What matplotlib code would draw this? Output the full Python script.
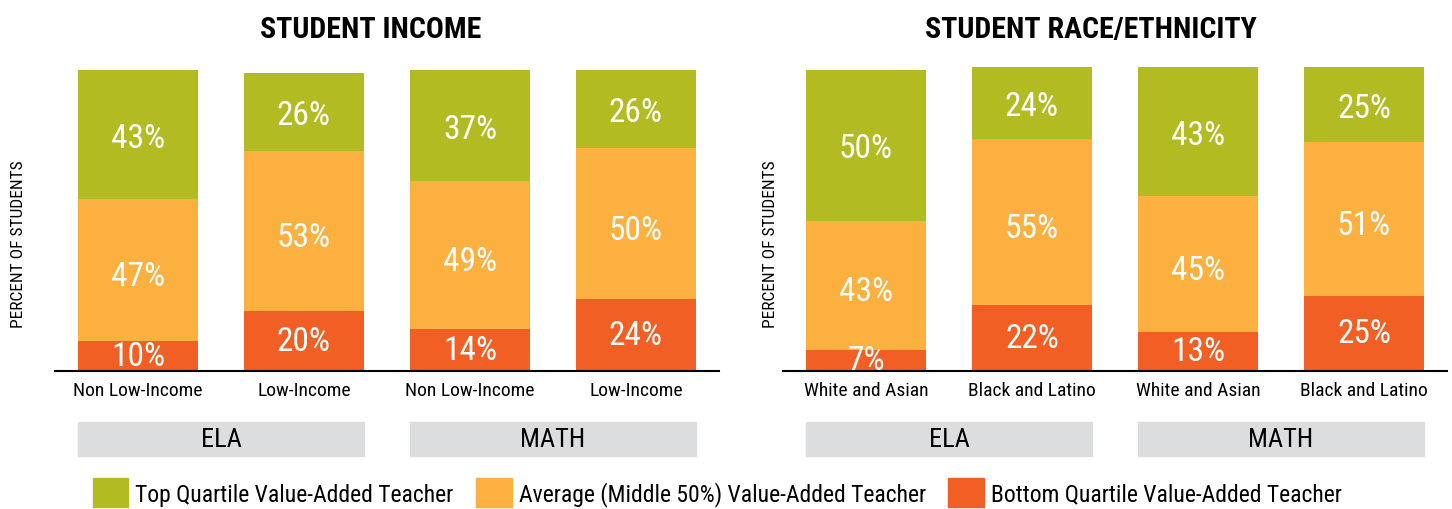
import matplotlib
matplotlib.use("Agg")
import matplotlib.pyplot as plt
from matplotlib import font_manager
from matplotlib.patches import Rectangle, Patch

# data
income_groups = ["Non Low-Income", "Low-Income", "Non Low-Income", "Low-Income"]
income_bottom = [10, 20, 14, 24]
income_middle = [47, 53, 49, 50]
income_top = [43, 26, 37, 26]

race_groups = ["White and Asian", "Black and Latino", "White and Asian", "Black and Latino"]
race_bottom = [7, 22, 13, 25]
race_middle = [43, 55, 45, 51]
race_top = [50, 24, 43, 25]

subjects = ["ELA", "MATH"]
titles = ["STUDENT INCOME", "STUDENT RACE/ETHNICITY"]
legend_labels = ["Top Quartile Value-Added Teacher",
                 "Average (Middle 50%) Value-Added Teacher",
                 "Bottom Quartile Value-Added Teacher"]

GREEN = "#B2BC22"
ORANGE = "#FBB040"
RED = "#F15F24"
GRAY = "#DCDDDE"

# narrow font if installed, otherwise Roboto
names = {f.name for f in font_manager.fontManager.ttflist}
stretch = "normal"
FONT = "Roboto"
for cand in ["Liberation Sans Narrow", "Roboto Condensed", "Open Sans Condensed",
             "DejaVu Sans Condensed"]:
    if cand in names:
        FONT = cand
        break
else:
    for f in font_manager.fontManager.ttflist:
        if f.name == "DejaVu Sans" and f.stretch == "condensed":
            FONT = "DejaVu Sans"
            stretch = "condensed"
            break
plt.rcParams["font.family"] = [FONT, "DejaVu Sans"]
plt.rcParams["font.stretch"] = stretch

W, H = 1452, 510
fig = plt.figure(figsize=(W / 100, H / 100), dpi=100)

base_px = 372
top_px = 60
width = 120 / 166


def make_panel(left_px, groups, bottom, middle, top, title, title_x, ylab_x):
    ax = fig.add_axes([left_px / W, (H - base_px) / H, 664 / W, (base_px - top_px) / H])
    x = list(range(len(groups)))
    ax.bar(x, bottom, width, color=RED)
    ax.bar(x, middle, width, bottom=bottom, color=ORANGE)
    mid_b = [b + m for b, m in zip(bottom, middle)]
    ax.bar(x, top, width, bottom=mid_b, color=GREEN)

    for i in x:
        ax.text(i, bottom[i] / 2, f"{bottom[i]}%", ha="center", va="center",
                color="white", fontsize=24)
        ax.text(i, bottom[i] + middle[i] / 2 - 2, f"{middle[i]}%", ha="center",
                va="center", color="white", fontsize=24)
        ax.text(i, mid_b[i] + top[i] / 2 - 1, f"{top[i]}%", ha="center",
                va="center", color="white", fontsize=24)

    ax.set_xlim(-0.5, 3.5)
    ax.set_ylim(0, 100 * (base_px - top_px) / 301)
    for s in ["top", "right", "left"]:
        ax.spines[s].set_visible(False)
    ax.spines["bottom"].set_linewidth(1.5)
    ax.set_yticks([])
    ax.set_xticks(x)
    ax.set_xticklabels(groups, fontsize=14)
    ax.tick_params(axis="x", length=0, pad=7)
    ax.set_ylabel("PERCENT OF STUDENTS", fontsize=12.5)
    ax.yaxis.set_label_coords(ylab_x, 0.41)

    # subject boxes under each pair of bars
    k = 301 / 100
    y0 = -(457 - base_px) / k
    h = (457 - 423) / k
    for j, subj in enumerate(subjects):
        a = 2 * j - width / 2
        b = 2 * j + 1 + width / 2
        ax.add_patch(Rectangle((a, y0), b - a, h, color=GRAY, clip_on=False))
        ax.text((a + b) / 2, y0 + h / 2, subj, ha="center", va="center",
                fontsize=19)

    fig.text(title_x / W, 1 - 30 / H, title, ha="center",
             va="center", fontsize=21.5, fontweight="bold")
    return ax


make_panel(55, income_groups, income_bottom, income_middle, income_top,
           titles[0], 371, -0.044)
make_panel(783, race_groups, race_bottom, race_middle, race_top,
           titles[1], 1091, -0.007)

handles = [Patch(color=GREEN), Patch(color=ORANGE), Patch(color=RED)]
fig.legend(handles, legend_labels, loc="lower center", ncol=3, frameon=False,
           fontsize=17, bbox_to_anchor=(0.494, -0.038), handlelength=1.5,
           handleheight=1.5, handletextpad=0.3, columnspacing=0.95)

fig.savefig("out.png", dpi=100)
